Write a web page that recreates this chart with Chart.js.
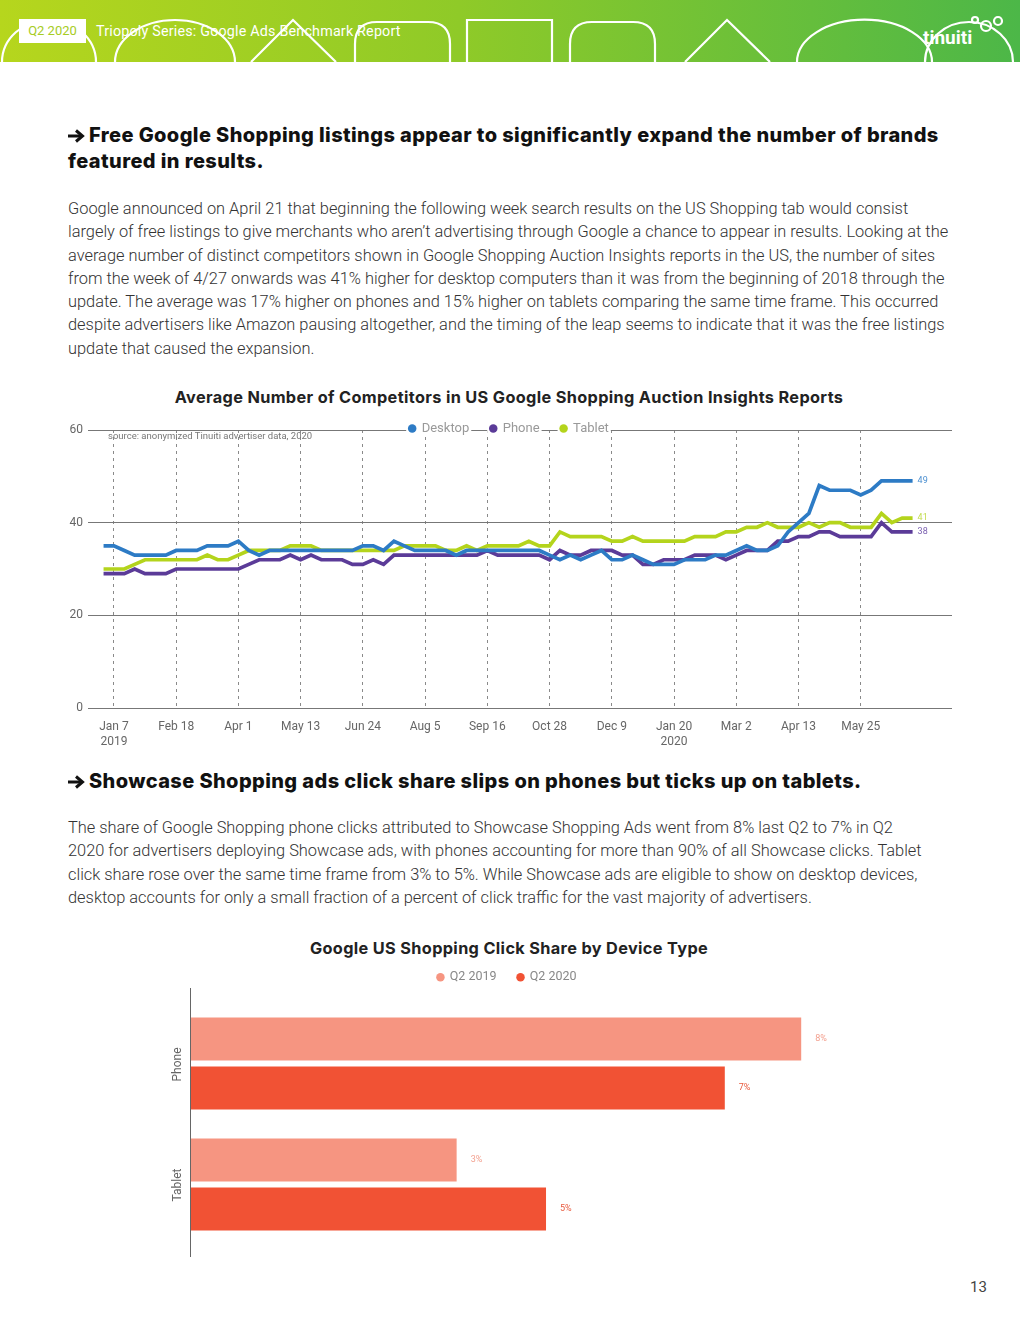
<!DOCTYPE html>
<html>
<head>
<meta charset="utf-8">
<script src="https://cdn.jsdelivr.net/npm/chart.js@4.4.0/dist/chart.umd.min.js"></script>
<style>
  body { margin: 0; background: #fff; }
  #page { position: relative; width: 1020px; height: 1320px; overflow: hidden; font-family: Roboto, sans-serif; }
  .abs { position: absolute; white-space: nowrap; }
  .h2 { left: 68px; font-family: Inter, sans-serif; font-weight: 800; font-size: 20px; letter-spacing: 0.4px; line-height: 26px; color: #111; }
  .arrow { display: inline-block; width: 17px; height: 14px; margin-right: 4px; vertical-align: -1px; }
  .p { left: 68px; font-family: Roboto, sans-serif; font-weight: 300; font-size: 16.4px; line-height: 23.3px; color: #333; }
  .ctitle { left: 0; width: 1018px; text-align: center; font-family: Inter, sans-serif; font-weight: 700; font-size: 16.3px; letter-spacing: 0.35px; line-height: 20px; color: #222; }
  #header { position: absolute; left: 0; top: 0; width: 1020px; height: 62px; background: linear-gradient(90deg, #b6d61d 0%, #8fca28 45%, #4cb748 100%); }
  #q2 { left: 19px; top: 19px; width: 67px; height: 24px; background: #fff; color: #a6cc24; font-size: 13px; line-height: 24px; text-align: center; }
  #series { left: 96px; top: 22px; color: #fff; font-size: 14.3px; letter-spacing: 0.2px; line-height: 18px; }
  #logo { left: 923px; top: 27px; color: #fff; font-family: "Liberation Sans Narrow", "Roboto", sans-serif; font-weight: 700; font-size: 19px; line-height: 22px; }
  #lineBox { position: absolute; left: 60px; top: 415px; width: 900px; height: 345px; }
  #barBox { position: absolute; left: 150px; top: 955px; width: 820px; height: 303px; }
  #source { left: 108px; top: 430px; font-size: 9.5px; line-height: 12px; color: #777; }
  #pnum { left: 970px; top: 1277px; font-size: 15px; line-height: 20px; color: #444; }
</style>
</head>
<body>
<div id="page">
  <div id="header">
    <svg width="1020" height="62" style="position:absolute;left:0;top:0" fill="none" stroke="#fff" stroke-width="2.2">
      <path d="M2 62 A47 42 0 0 1 96 62"/>
      <path d="M115 62 A60 42 0 0 1 235 62"/>
      <path d="M251 62 L293 20 L336 62"/>
      <path d="M355 62 V44 Q355 22 377 22 H428 Q450 22 450 44 V62"/>
      <path d="M467 62 V20 H552 V62"/>
      <path d="M570 62 V44 Q570 22 592 22 H633 Q655 22 655 44 V62"/>
      <path d="M685 62 L727 20 L770 62"/>
      <path d="M797 62 A67 42 0 0 1 932 62"/>
      <path d="M925 62 A44 40 0 0 1 1013 62"/>
      <circle cx="986" cy="26" r="5"/>
      <circle cx="998" cy="21" r="4"/>
      <circle cx="975" cy="20" r="3"/>
    </svg>
    <div id="q2" class="abs">Q2 2020</div>
    <div id="series" class="abs">Triopoly Series: Google Ads Benchmark Report</div>
    <div id="logo" class="abs">tinuiti</div>
  </div>

  <div class="abs h2" style="top:122px"><svg class="arrow" viewBox="0 0 17 14" fill="none" stroke="#111" stroke-width="3"><path d="M0 7 H14"/><path d="M8 1.5 L14.5 7 L8 12.5"/></svg>Free Google Shopping listings appear to significantly expand the number of brands<br>featured in results.</div>

  <div class="abs p" style="top:197px">Google announced on April 21 that beginning the following week search results on the US Shopping tab would consist<br>largely of free listings to give merchants who aren’t advertising through Google a chance to appear in results. Looking at the<br>average number of distinct competitors shown in Google Shopping Auction Insights reports in the US, the number of sites<br>from the week of 4/27 onwards was 41% higher for desktop computers than it was from the beginning of 2018 through the<br>update. The average was 17% higher on phones and 15% higher on tablets comparing the same time frame. This occurred<br>despite advertisers like Amazon pausing altogether, and the timing of the leap seems to indicate that it was the free listings<br>update that caused the expansion.</div>

  <div class="abs ctitle" style="top:387px">Average Number of Competitors in US Google Shopping Auction Insights Reports</div>
  <div id="lineBox"><canvas id="lineChart"></canvas></div>
  <div id="source" class="abs">source: anonymized Tinuiti advertiser data, 2020</div>

  <div class="abs h2" style="top:768px"><svg class="arrow" viewBox="0 0 17 14" fill="none" stroke="#111" stroke-width="3"><path d="M0 7 H14"/><path d="M8 1.5 L14.5 7 L8 12.5"/></svg>Showcase Shopping ads click share slips on phones but ticks up on tablets.</div>

  <div class="abs p" style="top:816px">The share of Google Shopping phone clicks attributed to Showcase Shopping Ads went from 8% last Q2 to 7% in Q2<br>2020 for advertisers deploying Showcase ads, with phones accounting for more than 90% of all Showcase clicks. Tablet<br>click share rose over the same time frame from 3% to 5%. While Showcase ads are eligible to show on desktop devices,<br>desktop accounts for only a small fraction of a percent of click traffic for the vast majority of advertisers.</div>

  <div class="abs ctitle" style="top:938px">Google US Shopping Click Share by Device Type</div>
  <div id="barBox"><canvas id="barChart"></canvas></div>

  <div id="pnum" class="abs">13</div>
</div>

<script>
// weekly series, first week = Dec 31 2018 (index 0), last = Jun 29 2020
const desktop = [
  35, 35, 34, 33, 33, 33, 33, 34, 34, 34,
  35, 35, 35, 36, 34, 33, 34, 34, 34, 34,
  34, 34, 34, 34, 34, 35, 35, 34, 36, 35,
  34, 34, 34, 34, 33, 34, 34, 34, 34, 34,
  34, 34, 34, 33, 32, 33, 32, 33, 34, 32,
  32, 33, 32, 31, 31, 31, 32, 32, 32, 33,
  33, 34, 35, 34, 34, 35, 38, 40, 42, 48,
  47, 47, 47, 46, 47, 49, 49, 49, 49
];
const phone = [
  29, 29, 29, 30, 29, 29, 29, 30, 30, 30,
  30, 30, 30, 30, 31, 32, 32, 32, 33, 32,
  33, 32, 32, 32, 31, 31, 32, 31, 33, 33,
  33, 33, 33, 33, 33, 33, 33, 34, 33, 33,
  33, 33, 33, 32, 34, 33, 33, 34, 34, 34,
  33, 33, 31, 31, 32, 32, 32, 33, 33, 33,
  32, 33, 34, 34, 34, 36, 36, 37, 37, 38,
  38, 37, 37, 37, 37, 40, 38, 38, 38
];
const tablet = [
  30, 30, 30, 31, 32, 32, 32, 32, 32, 32,
  33, 32, 32, 33, 34, 34, 34, 34, 35, 35,
  35, 34, 34, 34, 34, 34, 34, 34, 34, 35,
  35, 35, 35, 34, 34, 35, 34, 35, 35, 35,
  35, 36, 35, 35, 38, 37, 37, 37, 37, 36,
  36, 37, 36, 36, 36, 36, 36, 37, 37, 37,
  38, 38, 39, 39, 40, 39, 39, 39, 40, 39,
  40, 40, 39, 39, 39, 42, 40, 41, 41
];
const tickWeeks = [1, 7, 13, 19, 25, 31, 37, 43, 49, 55, 61, 67, 73];
const tickLabels = [
  ["Jan 7", "2019"], "Feb 18", "Apr 1", "May 13", "Jun 24", "Aug 5", "Sep 16",
  "Oct 28", "Dec 9", ["Jan 20", "2020"], "Mar 2", "Apr 13", "May 25"
];

const devices = ["Phone", "Tablet"];
const q2_2019 = [8.0, 3.49];
const q2_2020 = [7.0, 4.66];

Chart.defaults.font.family = "Roboto";
Chart.defaults.animation = false;

const toPoints = (arr) => arr.map((v, i) => ({ x: i, y: v }));

// legend takes 1px of layout and is then moved onto the line it sits on in the original
const legendShift = {
  id: "legendShift",
  afterLayout(chart, args, opts) {
    const lg = chart.legend;
    const pad = lg.options.labels.padding;
    const top = chart.chartArea.top + opts.dy - pad - 6;
    lg.height = pad * 2 + 14;
    lg.top = top; lg.bottom = top + lg.height;
    lg.left += opts.dx; lg.right += opts.dx;
  },
  afterDraw(chart, args, opts) {
    if (!opts.clear) return;
    const lg = chart.legend, ctx = chart.ctx;
    const cy = chart.chartArea.top + opts.dy;
    ctx.save();
    ctx.fillStyle = "#fff";
    lg.legendHitBoxes.forEach(h => ctx.fillRect(h.left - 3, cy - 7, h.width + 5, 14));
    ctx.restore();
    lg.draw();
  }
};

const endLabels = {
  id: "endLabels",
  afterDatasetsDraw(chart) {
    const ctx = chart.ctx;
    ctx.save();
    ctx.font = "9px Roboto";
    ctx.textBaseline = "middle";
    chart.data.datasets.forEach((ds, i) => {
      const pts = chart.getDatasetMeta(i).data;
      const el = pts[pts.length - 1];
      ctx.fillStyle = ds.labelColor;
      ctx.fillText(ds.data[ds.data.length - 1].y, el.x + 5, el.y);
    });
    ctx.restore();
  }
};

const barLabels = {
  id: "barLabels",
  afterDatasetsDraw(chart) {
    const ctx = chart.ctx;
    ctx.save();
    ctx.font = "9px Roboto";
    ctx.textBaseline = "middle";
    chart.data.datasets.forEach((ds, i) => {
      ctx.fillStyle = ds.labelColor;
      chart.getDatasetMeta(i).data.forEach((el, j) => {
        ctx.fillText(Math.round(ds.data[j]) + "%", el.x + 14, el.y);
      });
    });
    ctx.restore();
  }
};

const axisLine = {
  id: "axisLine",
  afterDraw(chart) {
    const { ctx, chartArea: a } = chart;
    ctx.save();
    ctx.strokeStyle = "#666";
    ctx.lineWidth = 1;
    ctx.beginPath();
    ctx.moveTo(a.left + 0.5, a.top - 15);
    ctx.lineTo(a.left + 0.5, a.bottom + 12);
    ctx.stroke();
    ctx.restore();
  }
};

const noBorderLabels = (chart) =>
  Chart.defaults.plugins.legend.labels.generateLabels(chart).map(l => ({ ...l, lineWidth: 0 }));

new Chart(document.getElementById("lineChart"), {
  type: "line",
  data: {
    datasets: [
      { label: "Desktop", data: toPoints(desktop), borderColor: "#2d7bc5", backgroundColor: "#2d7bc5", labelColor: "#4b8fd0" },
      { label: "Phone", data: toPoints(phone), borderColor: "#5b3b98", backgroundColor: "#5b3b98", labelColor: "#7a5fb0" },
      { label: "Tablet", data: toPoints(tablet), borderColor: "#b4d41c", backgroundColor: "#b4d41c", labelColor: "#c3dc50" }
    ]
  },
  options: {
    responsive: true,
    maintainAspectRatio: false,
    layout: { padding: { top: 14, right: 8, left: 0, bottom: 0 } },
    elements: { line: { borderWidth: 3.7, tension: 0 }, point: { radius: 0 } },
    scales: {
      x: {
        type: "linear",
        min: -1.5,
        max: 81.8,
        afterBuildTicks: (s) => { s.ticks = tickWeeks.map(v => ({ value: v })); },
        afterFit: (s) => { s.height = 52; },
        ticks: {
          callback: (v, i) => tickLabels[i],
          color: "#666",
          font: { size: 12, lineHeight: 1.3 },
          padding: 11,
          maxRotation: 0,
          autoSkip: false
        },
        grid: { color: "#8a8a8a", lineWidth: 1, drawTicks: false },
        border: { display: false, dash: [3, 4] }
      },
      y: {
        min: 0,
        max: 60,
        afterFit: (s) => { s.width = 28; },
        ticks: { stepSize: 20, color: "#666", font: { size: 12 }, padding: 5 },
        grid: { color: "#777", lineWidth: 1, drawTicks: false },
        border: { display: false }
      }
    },
    plugins: {
      legend: {
        position: "top",
        align: "center",
        maxHeight: 1,
        labels: {
          usePointStyle: true,
          pointStyle: "circle",
          boxWidth: 6,
          boxHeight: 6,
          padding: 21,
          color: "#999",
          font: { size: 13 },
          generateLabels: noBorderLabels
        }
      },
      legendShift: { dx: 3, dy: -2, clear: true },
      tooltip: { enabled: false }
    }
  },
  plugins: [legendShift, endLabels]
});

new Chart(document.getElementById("barChart"), {
  type: "bar",
  data: {
    labels: devices,
    datasets: [
      { label: "Q2 2019", data: q2_2019, backgroundColor: "#f69581", labelColor: "#f3a08f" },
      { label: "Q2 2020", data: q2_2020, backgroundColor: "#f15234", labelColor: "#e85a3e" }
    ]
  },
  options: {
    indexAxis: "y",
    responsive: true,
    maintainAspectRatio: false,
    layout: { padding: { top: 47, right: 16, left: 0, bottom: 13 } },
    categoryPercentage: 0.81,
    barPercentage: 0.877,
    scales: {
      x: { min: 0, max: 10, display: false },
      y: {
        afterFit: (s) => { s.width = 40; },
        ticks: { color: "#666", font: { size: 12 }, minRotation: 90, maxRotation: 90, padding: 4, labelOffset: -16 },
        grid: { display: false },
        border: { display: false }
      }
    },
    plugins: {
      legend: {
        position: "top",
        align: "center",
        maxHeight: 1,
        labels: {
          usePointStyle: true,
          pointStyle: "circle",
          boxWidth: 6,
          boxHeight: 6,
          padding: 21,
          color: "#888",
          font: { size: 12.5 }
        }
      },
      legendShift: { dx: -45, dy: -26, clear: false },
      tooltip: { enabled: false }
    }
  },
  plugins: [legendShift, barLabels, axisLine]
});
</script>
</body>
</html>
